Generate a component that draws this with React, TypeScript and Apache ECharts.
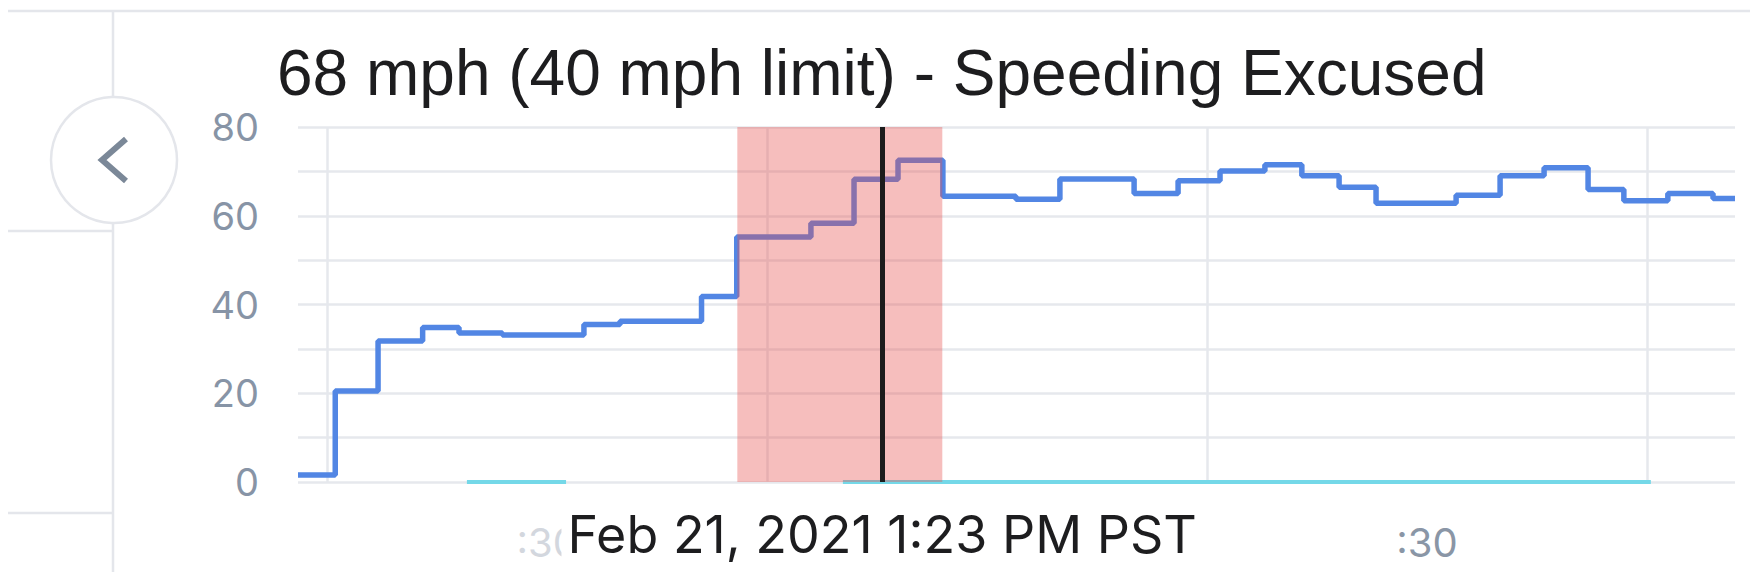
import React, { useEffect, useRef } from "react";
import * as echarts from "echarts";

// ---- data (seconds from left edge of view, mph) ----
const stepTimes = [0, 1.27, 2.73, 4.25, 5.49, 6.97, 9.75, 10.98, 13.76, 14.96, 17.49, 18.96, 20.46, 21.99, 24.48, 25.98, 28.51, 30.01, 31.44, 32.97, 34.23, 35.5, 36.76, 39.49, 40.99, 42.49, 43.99, 45.21, 46.71, 48.25, 49];
const speeds = [1.6, 20.5, 31.8, 34.8, 33.6, 33.1, 35.5, 36.2, 41.8, 55.2, 58.3, 68.2, 72.5, 64.4, 63.7, 68.3, 65.0, 67.9, 70.1, 71.5, 69.0, 66.4, 62.8, 64.6, 69.0, 70.8, 65.9, 63.4, 65.0, 63.9, 63.9];
const cyanStarts = [5.76, 18.58];
const cyanEnds = [9.14, 46.13];
const xGridTimes = [1, 16, 31, 46];
const xLabelTimes = [8.5, 38.5];
const xLabelTexts = [":30", ":30"];
const xLabelColors = ["#d3d7de", "#8a96a6"];
const excusedStart = 14.98;
const excusedEnd = 21.97;
const cursorTime = 19.92;
const titleText = "68 mph (40 mph limit) - Speeding Excused";
const cursorText = "Feb 21, 2021 1:23 PM PST";
const xMin = 0;
const xMax = 49;
const yMin = 0;
const yMax = 80;

const FRAME = "#e4e6eb";

export default function App() {
  const ref = useRef<HTMLDivElement>(null);

  useEffect(() => {
    if (!ref.current) return;
    const chart = echarts.init(ref.current, undefined, { renderer: "svg" });

    const speedData = stepTimes.map((t, i) => [t, speeds[i]]);
    const cyanData: any[] = [];
    cyanStarts.forEach((s, i) => {
      cyanData.push([s, 0]);
      cyanData.push([cyanEnds[i], 0]);
      cyanData.push([cyanEnds[i], null]);
    });

    const option: any = {
      animation: false,
      grid: { left: 298, right: 15, top: 127, bottom: 90, containLabel: false },
      xAxis: {
        type: "value",
        min: xMin,
        max: xMax,
        axisLine: { show: false },
        axisTick: { show: false },
        splitLine: { show: false },
        axisLabel: {
          customValues: xLabelTimes,
          formatter: (v: number) => {
            const i = xLabelTimes.indexOf(v);
            return i >= 0 ? xLabelTexts[i] : "";
          },
          color: (v: any) => {
            const i = xLabelTimes.indexOf(Number(v));
            return i >= 0 ? xLabelColors[i] : "#8a96a6";
          },
          fontFamily: "Inter",
          fontSize: 40,
          margin: 40,
        },
      },
      yAxis: {
        type: "value",
        min: yMin,
        max: yMax,
        interval: 10,
        axisLine: { show: false },
        axisTick: { show: false },
        splitLine: { show: true, lineStyle: { color: "#e6e8ed", width: 2.5 } },
        axisLabel: {
          formatter: (v: number) => (v % 20 === 0 ? String(v) : ""),
          color: "#8794a6",
          fontFamily: "Inter",
          fontSize: 38,
          margin: 39,
        },
      },
      series: [
        {
          type: "line",
          data: [],
          z: 1,
          silent: true,
          markLine: {
            z: 1,
            silent: true,
            symbol: "none",
            label: { show: false },
            lineStyle: { color: "#e6e8ed", width: 2.5, type: "solid" },
            data: xGridTimes.map((t) => ({ xAxis: t })),
          },
        },
        {
          type: "line",
          step: "end",
          data: speedData,
          showSymbol: false,
          clip: true,
          z: 3,
          lineStyle: { color: "#5286e4", width: 5.5 },
        },
        {
          type: "line",
          data: cyanData,
          showSymbol: false,
          connectNulls: false,
          clip: false,
          z: 3,
          lineStyle: { color: "#74d8e8", width: 4 },
        },
        {
          type: "line",
          data: [],
          z: 6,
          silent: true,
          markArea: {
            z: 6,
            silent: true,
            itemStyle: { color: "rgba(231, 80, 76, 0.37)" },
            data: [[{ xAxis: excusedStart }, { xAxis: excusedEnd }]],
          },
        },
        {
          type: "line",
          data: [],
          z: 7,
          silent: true,
          markLine: {
            z: 7,
            silent: true,
            symbol: "none",
            label: { show: false },
            lineStyle: { color: "#1c1c1c", width: 5, type: "solid" },
            data: [{ xAxis: cursorTime }],
          },
        },
      ],
    };

    chart.setOption(option);

    const cursorPx = chart.convertToPixel({ gridIndex: 0 }, [cursorTime, 0]) as number[];

    chart.setOption({
      graphic: [
        { type: "line", z: 0, shape: { x1: 8, y1: 11, x2: 1750, y2: 11 }, style: { stroke: FRAME, lineWidth: 2.5 } },
        { type: "line", z: 0, shape: { x1: 113, y1: 11, x2: 113, y2: 572 }, style: { stroke: FRAME, lineWidth: 2.5 } },
        { type: "line", z: 0, shape: { x1: 8, y1: 231, x2: 113, y2: 231 }, style: { stroke: FRAME, lineWidth: 2.5 } },
        { type: "line", z: 0, shape: { x1: 8, y1: 513, x2: 113, y2: 513 }, style: { stroke: FRAME, lineWidth: 2.5 } },
        { type: "circle", z: 1, shape: { cx: 114, cy: 160, r: 63 }, style: { fill: "#ffffff", stroke: FRAME, lineWidth: 2.5 } },
        {
          type: "polyline",
          z: 2,
          shape: { points: [[126, 139], [102, 160], [126, 181]] },
          style: { stroke: "#7b8898", lineWidth: 6, fill: "none" },
        },
        {
          type: "text",
          z: 10,
          x: 277,
          y: 73,
          style: {
            text: titleText,
            fill: "#1d1d1f",
            font: "64px 'Liberation Sans', Arial, sans-serif",
            align: "left",
            verticalAlign: "middle",
          },
        },
        {
          type: "text",
          z: 100,
          x: cursorPx[0],
          y: 534,
          style: {
            text: cursorText,
            fill: "#1d1d1f",
            font: "52px Inter, sans-serif",
            align: "center",
            verticalAlign: "middle",
            backgroundColor: "#ffffff",
            padding: [2, 6],
          },
        },
      ],
    });

    return () => chart.dispose();
  }, []);

  return (
    <div
      ref={ref}
      style={{ position: "fixed", left: 0, top: 0, width: 1750, height: 572, background: "#ffffff" }}
    />
  );
}
